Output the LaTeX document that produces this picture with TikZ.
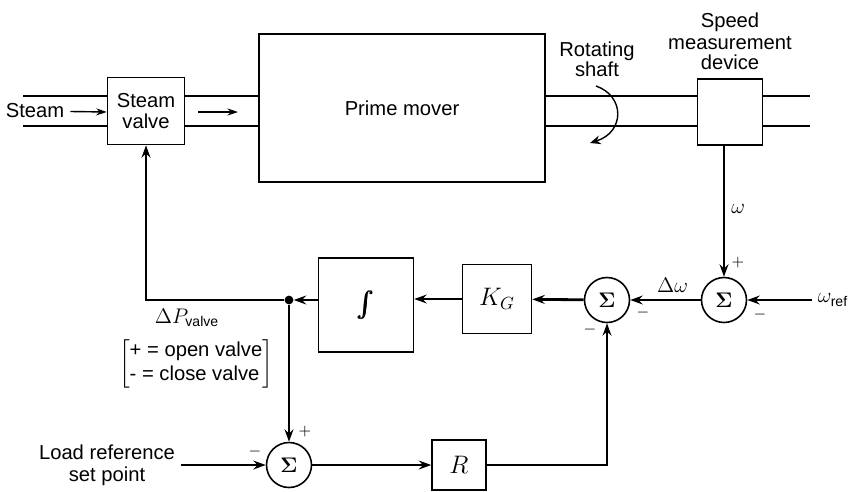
\documentclass[tikz,border=0pt]{standalone}
\usepackage{amsmath,amssymb}
\usepackage[no-math]{fontspec}
\setmainfont{Liberation Sans}
\usepackage{tikz}
\usetikzlibrary{arrows.meta,positioning,calc}

\begin{document}
\begin{tikzpicture}[x=0.02cm,y=-0.02cm,font=\fontsize{11.5}{13.5}\selectfont,
  blk/.style={draw,line width=0.9pt,inner sep=0pt},
  sumnode/.style={circle,draw,line width=0.9pt,minimum size=0.9cm,inner sep=0pt,font=\large},
  sig/.style={line width=1.6pt,-{Stealth[length=7pt,width=5pt]}},
  pipe/.style={line width=1.3pt},
  sgn/.style={inner sep=0pt,font=\small}]
\useasboundingbox (0,0) rectangle (854,491);
\coordinate (ptop) at (0,96);
\coordinate (pbot) at (0,126);
% --- plant ---
\node[blk,minimum width=1.54cm,minimum height=1.34cm,align=center] (valve) at (146,111) {Steam\\[-2pt]valve};
\node[blk,minimum width=5.72cm,minimum height=2.96cm] (mover) at (402,108) {Prime mover};
\node[blk,minimum width=1.3cm,minimum height=1.32cm] (speed) at (730,112) {};
\node (steam) at (35,111) {Steam};
\node[align=center] (shaftlbl) at (597,59) {Rotating\\[-2pt]shaft};
\node[align=center] (speedlbl) at (730,41) {Speed\\[-1pt]measurement\\[-2pt]device};
\coordinate (pin) at (23,0);
\coordinate (pout) at (810,0);
\draw[pipe] (pin |- ptop) -- (valve.west |- ptop);
\draw[pipe] (pin |- pbot) -- (valve.west |- pbot);
\draw[pipe] (valve.east |- ptop) -- (mover.west |- ptop);
\draw[pipe] (valve.east |- pbot) -- (mover.west |- pbot);
\draw[pipe] (mover.east |- ptop) -- (speed.west |- ptop);
\draw[pipe] (mover.east |- pbot) -- (speed.west |- pbot);
\draw[pipe] (speed.east |- ptop) -- (pout |- ptop);
\draw[pipe] (speed.east |- pbot) -- (pout |- pbot);
\draw[line width=0.8pt,-{Stealth[length=6pt,width=4pt]}] (steam) -- (valve.west |- 0,112);
\draw[line width=0.8pt,-{Stealth[length=6pt,width=4pt]}] (198,112) -- (238,112);
\draw[line width=0.8pt,-{Stealth[length=6pt,width=5pt]}] (596,86) .. controls (625,96) and (625,132) .. (590,143);
% --- speed loop ---
\node[sumnode] (sumw) at (724,300) {$\mathbf{\Sigma}$};
\node[sumnode] (sumd) at (607,300) {$\mathbf{\Sigma}$};
\node[blk,minimum width=1.38cm,minimum height=1.38cm] (gain) at (497,299) {\Large$K_G$};
\node[blk,minimum width=1.9cm,minimum height=1.88cm] (integ) at (366,305) {\Large$\pmb{\int}$};
\node[circle,fill,inner sep=0pt,minimum size=5pt] (dot) at (289,300) {};
\node (wref) at (833,300) {\large$\omega_{\text{ref}}$};
\draw[sig] (sumw |- speed.south) -- node[right,pos=0.48,font=\large] {$\omega$} (sumw);
\draw[sig] (wref) -- (sumw);
\draw[sig] (sumw) -- node[above,pos=0.4,font=\large] {$\Delta\omega$} (sumd);
\draw[sig] (sumd) -- (gain);
\draw[sig] (gain) -- (integ.east |- gain);
\draw[sig] (integ.west |- dot) -- (dot);
\draw[sig] (dot) -| (valve.south);
\node[sgn] at (738,263) {$+$};
\node[sgn] at (760,315) {$-$};
\node[sgn] at (643,313) {$-$};
\node[sgn] at (590,330) {$-$};
\node at (187,318) {\large$\Delta P_{\text{valve}}$};
\node at (196,364) {$\left[\begin{tabular}{@{}l@{}}+ = open valve\\- = close valve\end{tabular}\right]$};
% --- load reference ---
\node[sumnode] (sumL) at (289,465) {$\mathbf{\Sigma}$};
\node[blk,minimum width=1.08cm,minimum height=1.0cm] (droop) at (459,465) {\Large$R$};
\node[align=center] (loadref) at (107,465) {Load reference\\[-1pt]set point};
\draw[sig] (dot) -- (sumL);
\draw[sig] (loadref) -- (sumL);
\draw[sig] (sumL) -- (droop);
\draw[sig] (droop) -| (sumd);
\node[sgn] at (305,432) {$+$};
\node[sgn] at (255,452) {$-$};
\end{tikzpicture}
\end{document}
